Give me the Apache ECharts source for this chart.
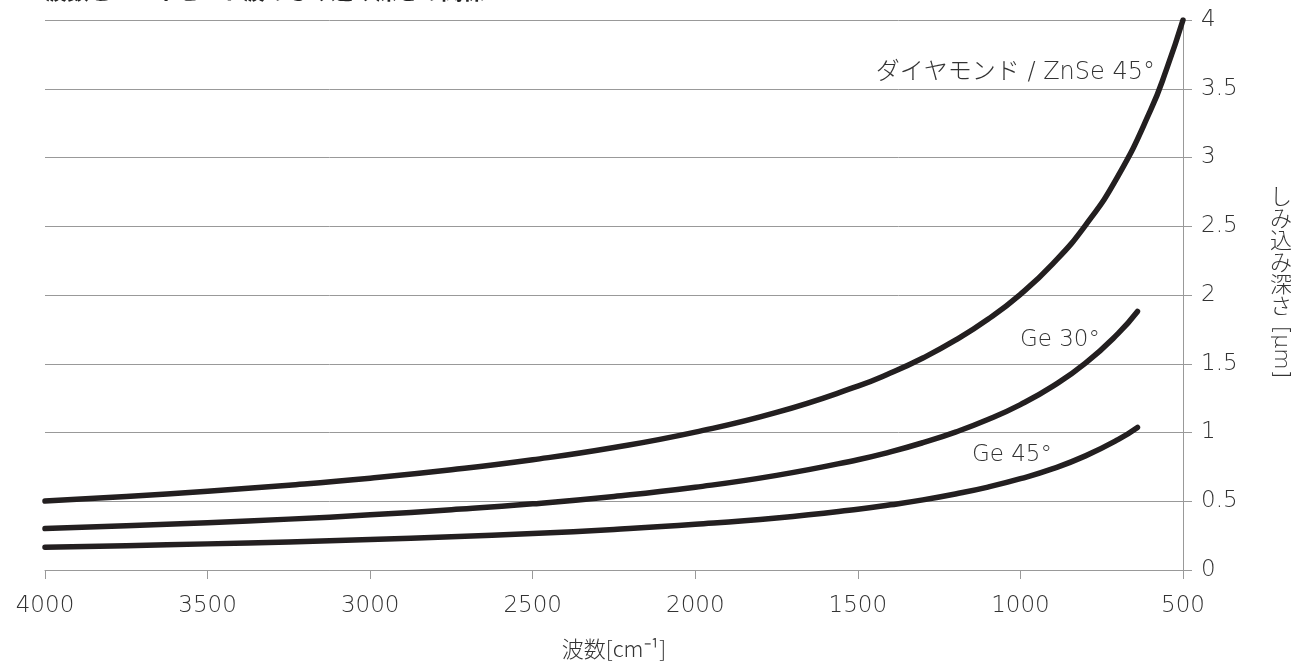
<!DOCTYPE html>
<html>
<head>
<meta charset="utf-8">
<script src="https://cdn.jsdelivr.net/npm/echarts@6/dist/echarts.min.js"></script>
<style>html,body{margin:0;padding:0;background:#fff;}#c{width:1295px;height:661px;}</style>
</head>
<body>
<div id="c"></div>
<script>
// Wavenumbers [cm-1]
const wavenumbersDiamond = [4000,3750,3500,3250,3000,2750,2500,2250,2000,1750,1500,1400,1300,1200,1100,1000,900,800,700,600,550,500];
const depthDiamond = [0.501,0.535,0.573,0.617,0.668,0.729,0.802,0.891,1.003,1.146,1.337,1.432,1.542,1.671,1.823,2.005,2.228,2.507,2.865,3.342,3.646,4.0];
const wavenumbersGe = [4000,3750,3500,3250,3000,2750,2500,2250,2000,1750,1500,1400,1300,1200,1100,1000,900,800,700,640];
const depthGe30 = [0.301,0.321,0.344,0.370,0.401,0.438,0.481,0.535,0.602,0.688,0.802,0.859,0.926,1.003,1.094,1.203,1.337,1.504,1.719,1.880];
const depthGe45 = [0.166,0.177,0.190,0.204,0.221,0.241,0.265,0.295,0.332,0.379,0.442,0.474,0.510,0.553,0.603,0.664,0.737,0.830,0.948,1.037];
const seriesNames = ['ダイヤモンド / ZnSe 45°','Ge 30°','Ge 45°'];
const titleText = '波数とエバネセント波のしみ込み深さの関係';
const xName = '波数[cm⁻¹]';
const yNameJa = ['し','み','込','み','深','さ'];
const yNameUnit = '[μm]';

const pairs = (xs, ys) => xs.map((x, i) => [x, ys[i]]);
const FONT = '"DejaVu Sans", "Noto Sans CJK JP", sans-serif';
const JFONT = '"Noto Sans CJK JP", sans-serif';
const lineColor = '#231f20';
const textColor = '#333';

const chart = echarts.init(document.getElementById('c'), null, {renderer: 'canvas'});
const mkSeries = (name, data) => ({
  name, type: 'line', data, smooth: true, showSymbol: false, symbol: 'none',
  lineStyle: {color: lineColor, width: 5.5, cap: 'round', join: 'round'}, z: 5, animation: false
});

const yLabelGraphics = yNameJa.map((ch, i) => ({
  type: 'text', x: 1281, y: 196 + i * 22,
  style: {text: ch, font: '300 22px ' + JFONT, fill: textColor, align: 'center', verticalAlign: 'middle'}
}));
yLabelGraphics.push({
  type: 'text', x: 1281, y: 352, rotation: -Math.PI / 2,
  style: {text: yNameUnit, font: '200 22px ' + FONT, fill: textColor, align: 'center', verticalAlign: 'middle'}
});

chart.setOption({
  animation: false,
  backgroundColor: '#fff',
  grid: {left: 45, right: 112, top: 20, bottom: 91, containLabel: false, outerBoundsMode: 'none'},
  xAxis: {
    type: 'value', inverse: true, min: 500, max: 4000, interval: 500,
    axisLine: {show: true, lineStyle: {color: '#999', width: 1}},
    axisTick: {show: true, inside: false, length: 9, lineStyle: {color: '#999'}},
    axisLabel: {color: textColor, fontSize: 23, fontFamily: FONT, fontWeight: 200, margin: 25,
      formatter: v => String(v)},
    splitLine: {show: false},
    name: xName, nameLocation: 'middle', nameGap: 68,
    nameTextStyle: {color: textColor, fontSize: 22, fontFamily: JFONT, fontWeight: 300}
  },
  yAxis: {
    type: 'value', position: 'right', min: 0, max: 4, interval: 0.5,
    axisLine: {show: true, lineStyle: {color: '#999', width: 1}},
    axisTick: {show: true, inside: false, length: 9, lineStyle: {color: '#999'}},
    axisLabel: {color: textColor, fontSize: 23, fontFamily: FONT, fontWeight: 200, margin: 18},
    splitLine: {show: true, lineStyle: {color: '#999', width: 1}}
  },
  graphic: [
    {type: 'text', x: 45, y: -20, style: {text: titleText, font: 'bold 22px ' + JFONT, fill: '#222'}},
    {type: 'text', x: 1155, y: 73, style: {text: seriesNames[0], font: '200 24px ' + FONT, fill: textColor, align: 'right', verticalAlign: 'middle'}},
    {type: 'text', x: 1100, y: 340, style: {text: seriesNames[1], font: '200 23px ' + FONT, fill: textColor, align: 'right', verticalAlign: 'middle'}},
    {type: 'text', x: 1052, y: 455, style: {text: seriesNames[2], font: '200 23px ' + FONT, fill: textColor, align: 'right', verticalAlign: 'middle'}}
  ].concat(yLabelGraphics),
  series: [
    mkSeries(seriesNames[0], pairs(wavenumbersDiamond, depthDiamond)),
    mkSeries(seriesNames[1], pairs(wavenumbersGe, depthGe30)),
    mkSeries(seriesNames[2], pairs(wavenumbersGe, depthGe45))
  ]
});
</script>
</body>
</html>
